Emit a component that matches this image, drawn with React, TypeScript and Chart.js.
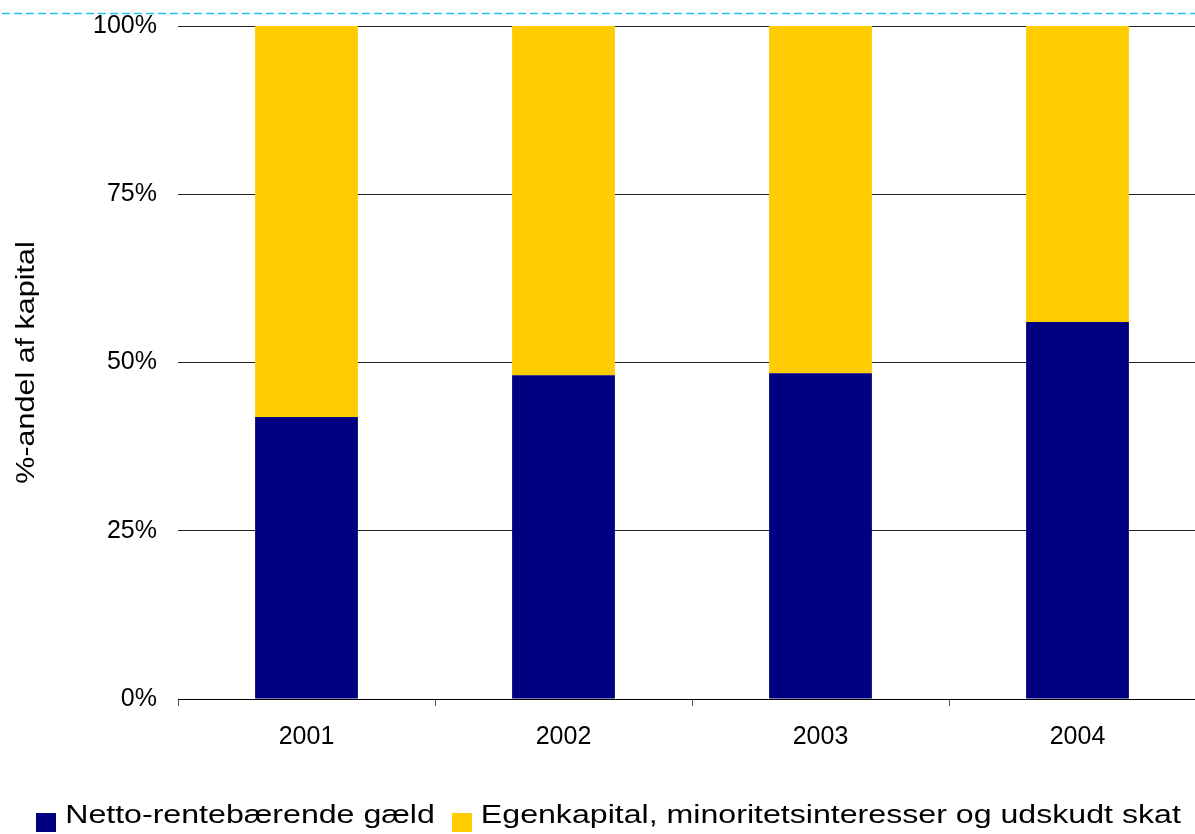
import React, { useEffect, useRef } from 'react';
import { Chart, registerables } from 'chart.js';

Chart.register(...registerables);

const categories = ['2001', '2002', '2003', '2004'];
const seriesNames = ['Netto-rentebærende gæld', 'Egenkapital, minoritetsinteresser og udskudt skat'];
const debtShare = [41.9, 48.1, 48.4, 56.0];
const equityShare = [58.1, 51.9, 51.6, 44.0];
const seriesColors = ['#000080', '#FFCC00'];
const yTickValues = [0, 25, 50, 75, 100];
const yTitle = '%-andel af kapital';

const FONT = "'Liberation Sans', Arial, Helvetica, sans-serif";
const TITLE_STRETCH = 1.22;
const LEGEND_STRETCH = 1.285;

const topDashPlugin = {
  id: 'topDash',
  beforeDraw(chart: any) {
    const ctx = chart.ctx;
    ctx.save();
    ctx.strokeStyle = '#22C4F2';
    ctx.lineWidth = 1.5;
    ctx.setLineDash([8, 4]);
    ctx.beginPath();
    ctx.moveTo(2, 13.5);
    ctx.lineTo(chart.width, 13.5);
    ctx.stroke();
    ctx.restore();
  },
};

const yTitlePlugin = {
  id: 'yTitleStretched',
  afterDraw(chart: any) {
    const ctx = chart.ctx;
    const ca = chart.chartArea;
    ctx.save();
    ctx.translate(27, (ca.top + ca.bottom) / 2);
    ctx.rotate(-Math.PI / 2);
    ctx.scale(TITLE_STRETCH, 1);
    ctx.font = `25px ${FONT}`;
    ctx.fillStyle = '#000';
    ctx.textAlign = 'center';
    ctx.textBaseline = 'middle';
    ctx.fillText(yTitle, 0, 0);
    ctx.restore();
  },
};

const legendPlugin = {
  id: 'bottomLegend',
  afterDraw(chart: any) {
    const ctx = chart.ctx;
    const datasets = chart.data.datasets;
    ctx.save();
    ctx.font = `25px ${FONT}`;
    const boxW = 20;
    const boxH = 19;
    const gap = 9;
    const itemGap = 17;
    const widths = datasets.map((d: any) => ctx.measureText(d.label).width * LEGEND_STRETCH);
    const total = widths.reduce((a: number, w: number) => a + boxW + gap + w, 0) + itemGap * (datasets.length - 1);
    let x = (chart.width - total) / 2;
    const boxTop = chart.height - 21;
    const baseline = chart.height - 11;
    datasets.forEach((d: any, i: number) => {
      ctx.fillStyle = d.backgroundColor;
      ctx.fillRect(Math.round(x), boxTop, boxW, boxH);
      x += boxW + gap;
      ctx.save();
      ctx.translate(x, baseline);
      ctx.scale(LEGEND_STRETCH, 1);
      ctx.fillStyle = '#000';
      ctx.textAlign = 'left';
      ctx.textBaseline = 'alphabetic';
      ctx.fillText(d.label, 0, 0);
      ctx.restore();
      x += widths[i] + itemGap;
    });
    ctx.restore();
  },
};

export default function App() {
  const canvasRef = useRef<HTMLCanvasElement | null>(null);

  useEffect(() => {
    if (!canvasRef.current) return;
    const chart = new Chart(canvasRef.current, {
      type: 'bar',
      data: {
        labels: categories,
        datasets: [
          {
            label: seriesNames[0],
            data: debtShare,
            backgroundColor: seriesColors[0],
            borderWidth: 0,
            barPercentage: 1,
            categoryPercentage: 0.4,
          },
          {
            label: seriesNames[1],
            data: equityShare,
            backgroundColor: seriesColors[1],
            borderWidth: 0,
            barPercentage: 1,
            categoryPercentage: 0.4,
          },
        ],
      },
      options: {
        responsive: false,
        animation: false,
        devicePixelRatio: 1,
        layout: { padding: { top: 26, bottom: 75, left: 0, right: 11 } },
        plugins: {
          legend: { display: false },
          tooltip: { enabled: false },
          title: { display: false },
        },
        scales: {
          x: {
            stacked: true,
            grid: {
              drawOnChartArea: false,
              drawTicks: true,
              tickLength: 7,
              color: '#555',
              lineWidth: 1,
            },
            border: { display: true, color: '#000', width: 1 },
            ticks: {
              color: '#000',
              font: { family: FONT, size: 25 },
              padding: 16,
            },
            afterFit(scale: any) {
              scale.height = 60;
            },
          },
          y: {
            stacked: true,
            min: 0,
            max: 100,
            afterBuildTicks(scale: any) {
              scale.ticks = yTickValues.map((v) => ({ value: v }));
            },
            grid: {
              drawTicks: false,
              color: '#222',
              lineWidth: 1,
            },
            border: { display: false },
            ticks: {
              color: '#000',
              font: { family: FONT, size: 25 },
              padding: 21,
              callback: (v: any) => `${v}%`,
            },
            afterFit(scale: any) {
              scale.width = 178;
              scale.paddingTop = 0;
              scale.paddingBottom = 0;
            },
          },
        },
      },
      plugins: [topDashPlugin, yTitlePlugin, legendPlugin],
    });
    return () => chart.destroy();
  }, []);

  return (
    <div style={{ position: 'absolute', left: 0, top: 0, width: 1195, height: 834, overflow: 'hidden', background: '#fff' }}>
      <canvas ref={canvasRef} width={1217} height={834} style={{ display: 'block', width: 1217, height: 834 }} />
    </div>
  );
}
